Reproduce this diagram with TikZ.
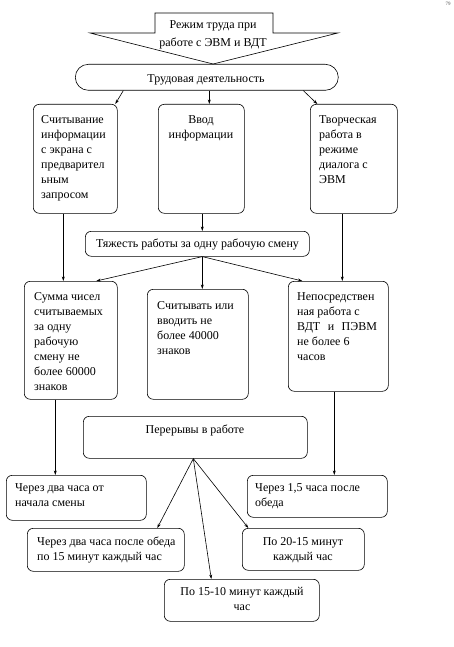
\documentclass[tikz,border=0pt]{standalone}
\usepackage{fontspec}
\setmainfont{Liberation Serif}
\usetikzlibrary{arrows.meta}
\newcommand\mystrut{\rule{0pt}{10pt}}
\begin{document}
\begin{tikzpicture}[x=1pt,y=-1pt,
  box/.style={draw, line width=0.6pt, rounded corners=6pt, anchor=north west, inner sep=0pt},
  txt/.style={inner sep=0pt, align=left, anchor=north west, font=\fontsize{12}{15}\selectfont},
  ctxt/.style={inner sep=0pt, align=center, anchor=north, font=\fontsize{12}{15}\selectfont},
  arr/.style={draw, line width=0.6pt, -{Stealth[length=4.5pt,width=3pt]}}
]
\useasboundingbox (0,0) rectangle (454,647);
% page number
\node[inner sep=0pt, font=\fontsize{5}{6}\selectfont, text=black!70] (pg) at (448,4) {79};
% top arrow shape
\draw[line width=0.6pt] (155,33) -- (155,13) -- (273,13) -- (273,33) -- (338,33) -- (213,64) -- (90,33) -- cycle;
\node[ctxt, font=\fontsize{12}{18}\selectfont] (t0) at (213,18.5) {\mystrut Режим труда при\\работе с ЭВМ и ВДТ};
% boxes
\node[box, rounded corners=13pt, minimum width=263pt, minimum height=26pt] (trud) at (75,64) {};
\node[box, minimum width=84pt, minimum height=109pt] (A) at (33,104) {};
\node[box, minimum width=86pt, minimum height=109pt] (B) at (158,104) {};
\node[box, minimum width=87pt, minimum height=109pt] (C) at (310,104) {};
\node[box, minimum width=224pt, minimum height=25pt] (T) at (85,231) {};
\node[box, minimum width=93pt, minimum height=118pt] (D) at (24,281) {};
\node[box, minimum width=101pt, minimum height=110pt] (E) at (147,289) {};
\node[box, minimum width=100pt, minimum height=110pt] (F) at (288,281) {};
\node[box, minimum width=224pt, minimum height=42pt] (P) at (83,416) {};
\node[box, minimum width=140pt, minimum height=45pt] (G) at (6,475) {};
\node[box, minimum width=140pt, minimum height=42pt] (H) at (247,475) {};
\node[box, minimum width=157pt, minimum height=43pt] (I) at (27,528) {};
\node[box, minimum width=122pt, minimum height=42pt] (J) at (242,528) {};
\node[box, minimum width=155pt, minimum height=42pt] (K) at (164,579) {};
% texts
\node[ctxt] (t1) at (206,72.5) {\mystrut Трудовая деятельность};
\node[txt] (tA) at (41,113.5) {\mystrut Считывание\\информации\\с экрана с\\предварител\\ьным\\запросом};
\node[ctxt] (tB) at (201,113.5) {\mystrut Ввод\\информации};
\node[txt] (tC) at (319,113.5) {\mystrut Творческая\\работа в\\режиме\\диалога с\\ЭВМ};
\node[ctxt] (tT) at (197.5,237.5) {\mystrut Тяжесть работы за одну рабочую смену};
\node[txt] (tD) at (34,290.5) {\mystrut Сумма чисел\\считываемых\\за одну\\рабочую\\смену не\\более 60000\\знаков};
\node[txt] (tE) at (157,299.5) {\mystrut Считывать или\\вводить не\\более 40000\\знаков};
\node[txt] (tF) at (297,290.5) {\mystrut Непосредствен\\ная работа с\\ВДТ\hspace{7.5pt}и\hspace{7.5pt}ПЭВМ\\не более 6\\часов};
\node[ctxt] (tP) at (195,423.5) {\mystrut Перерывы в работе};
\node[txt] (tG) at (15,481.5) {\mystrut Через два часа от\\начала смены};
\node[txt] (tH) at (255,481.5) {\mystrut Через 1,5 часа после\\обеда};
\node[txt] (tI) at (37,535.5) {\mystrut Через два часа после обеда\\по 15 минут каждый час};
\node[ctxt] (tJ) at (303,535.5) {\mystrut По 20-15 минут\\каждый час};
\node[ctxt] (tK) at (242,585.5) {\mystrut По 15-10 минут каждый\\час};
% connectors
\draw[arr] ([xshift=-83.5pt]trud.south) -- ([xshift=40pt]A.north);
\draw[arr] ([xshift=2.5pt]trud.south) -- ([xshift=8pt]B.north);
\draw[arr] ([xshift=96.5pt]trud.south) -- ([xshift=-36.5pt]C.north);
\draw[arr] ([xshift=-12pt]A.south) -- ([xshift=-7.5pt]D.north);
\draw[arr] ([xshift=1pt]B.south) -- ([xshift=5pt]T.north);
\draw[arr] ([xshift=-11.5pt]C.south) -- ([xshift=4pt]F.north);
\draw[arr] ([xshift=5pt]T.south) -- ([xshift=25.5pt]D.north);
\draw[arr] ([xshift=5pt]T.south) -- ([xshift=4.5pt]E.north);
\draw[arr] ([xshift=5pt]T.south) -- ([xshift=-36pt]F.north);
\draw[arr] ([xshift=-15.5pt]D.south) -- ([xshift=-21pt]G.north);
\draw[arr] ([xshift=-4pt]F.south) -- ([xshift=17pt]H.north);
\draw[arr] ([xshift=-2pt]P.south) -- ([xshift=51.5pt]I.north);
\draw[arr] ([xshift=-2pt]P.south) -- ([xshift=-55pt]J.north);
\draw[arr] ([xshift=-2pt]P.south) -- ([xshift=-30.5pt]K.north);
\end{tikzpicture}
\end{document}
